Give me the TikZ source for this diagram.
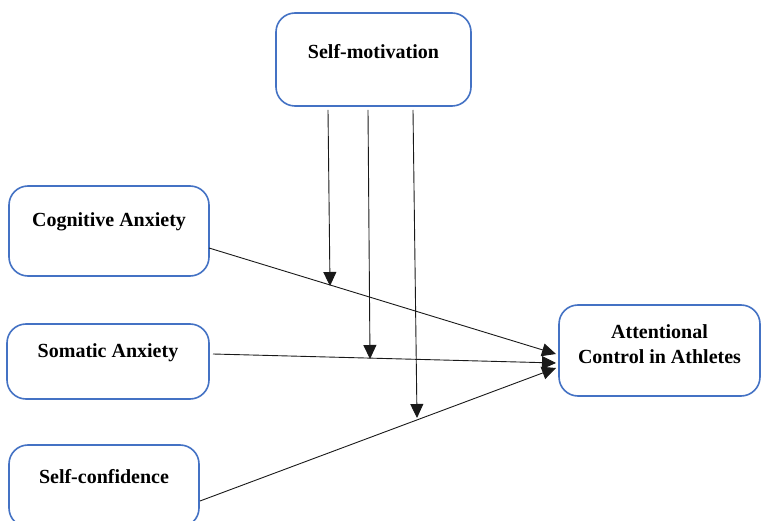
\documentclass[tikz,border=0pt]{standalone}
\usepackage{fontspec}
\setmainfont{Liberation Serif}
\usetikzlibrary{arrows.meta}
\definecolor{boxblue}{HTML}{4472C4}
\tikzset{
  box/.style={draw=boxblue, line width=1.6pt, rounded corners=19pt, fill=white, inner sep=0pt},
  lbl/.style={font=\fontsize{20}{25}\selectfont\bfseries, align=center, inner sep=0pt},
  conn/.style={draw=black!90, line width=0.9pt, -{Triangle[length=14pt,width=13pt]}},
}
\begin{document}
\begin{tikzpicture}[x=1pt,y=-1pt]
\useasboundingbox (0,0) rectangle (761,521);
\clip (0,0) rectangle (761,521);
% boxes
\node[box, minimum width=195pt, minimum height=93pt, label={[lbl,yshift=7.5pt]center:Self-motivation}] (sm) at (373.5,59.5) {};
\node[box, minimum width=200pt, minimum height=90pt, label={[lbl,yshift=9pt]center:Cognitive Anxiety}] (cog) at (109,231) {};
\node[box, minimum width=202pt, minimum height=75pt, label={[lbl,yshift=8.5pt]center:Somatic Anxiety}] (som) at (108,361.5) {};
\node[box, minimum width=190pt, minimum height=82pt, label={[lbl,yshift=9pt]center:Self-confidence}] (conf) at (104,486) {};
\node[box, minimum width=201pt, minimum height=91pt, label={[lbl,yshift=6pt]center:Attentional\\Control in Athletes}] (att) at (659.5,350.5) {};
% connector end points
\coordinate (cogS) at (209,248);
\coordinate (somS) at (213,354);
\coordinate (confS) at (200,501);
\coordinate (cogE) at (556,354);
\coordinate (somE) at (556,363);
\coordinate (confE) at (556,368);
\coordinate (m1s) at (328,110);
\coordinate (m2s) at (368,110);
\coordinate (m3s) at (413,110);
\coordinate (m1e) at (330,286);
\coordinate (m2e) at (370,359);
\coordinate (m3e) at (417,418);
% connectors
\draw[conn] (cogS) -- (cogE);
\draw[conn] (somS) -- (somE);
\draw[conn] (confS) -- (confE);
\draw[conn] (m1s) -- (m1e);
\draw[conn] (m2s) -- (m2e);
\draw[conn] (m3s) -- (m3e);
\end{tikzpicture}
\end{document}
